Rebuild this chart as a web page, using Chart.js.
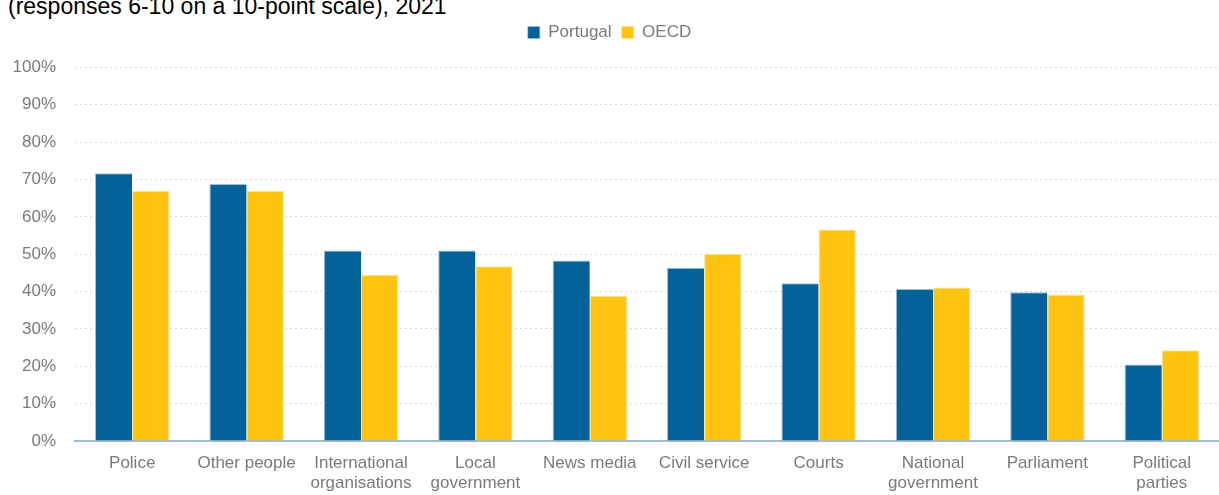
<!DOCTYPE html>
<html>
<head>
<meta charset="utf-8">
<script src="https://cdn.jsdelivr.net/npm/chart.js@4.4.0/dist/chart.umd.min.js"></script>
<style>
  html, body { margin: 0; padding: 0; background: #fff; overflow: hidden; }
  #wrap { position: relative; width: 1219px; height: 495px; }
  #title {
    position: absolute; left: 8px; top: -7px;
    font-family: "Liberation Sans Narrow", "Arial Narrow", "Liberation Sans", sans-serif;
    font-size: 23px; color: #000; white-space: nowrap;
  }
  canvas { position: absolute; left: 0; top: 0; }
</style>
</head>
<body>
<div id="wrap">
  <div id="title">(responses 6-10 on a 10-point scale), 2021</div>
  <canvas id="chart" width="1219" height="495"></canvas>
</div>
<script>
const categories = [
  "Police", "Other people", ["International", "organisations"], ["Local", "government"],
  "News media", "Civil service", "Courts", ["National", "government"], "Parliament", ["Political", "parties"]
];
const portugal = [71.7, 68.8, 51.0, 51.0, 48.3, 46.4, 42.2, 40.7, 39.8, 20.5];
const oecd = [67.0, 67.0, 44.5, 46.8, 38.8, 50.1, 56.6, 41.1, 39.2, 24.3];
const yTicks = [0, 10, 20, 30, 40, 50, 60, 70, 80, 90, 100];

const FONT = "'Liberation Sans Narrow', 'Arial Narrow', 'Liberation Sans', sans-serif";
const GREY = "#7a7a7a";

const ctx = document.getElementById("chart").getContext("2d");
new Chart(ctx, {
  type: "bar",
  data: {
    labels: categories,
    datasets: [
      {
        label: "Portugal",
        data: portugal,
        backgroundColor: "#04629a",
        borderColor: "#9dc0da",
        borderWidth: { top: 1, left: 1, right: 0, bottom: 0 },
        categoryPercentage: 0.65,
        barPercentage: 1.0,
      },
      {
        label: "OECD",
        data: oecd,
        backgroundColor: "#ffc312",
        borderColor: "#ffe28c",
        borderWidth: { top: 1, left: 1, right: 1, bottom: 0 },
        categoryPercentage: 0.65,
        barPercentage: 1.0,
      },
    ],
  },
  options: {
    responsive: false,
    animation: false,
    layout: { padding: { top: 14, right: 0, left: 0, bottom: 0 } },
    plugins: {
      legend: {
        position: "top",
        align: "center",
        weight: 3000,
        labels: {
          boxWidth: 12,
          boxHeight: 12,
          padding: 10,
          color: GREY,
          font: { family: FONT, size: 17 },
        },
      },
      // empty title used only as a spacer under the legend
      title: {
        display: true,
        text: "",
        weight: 500,
        padding: { top: 0, bottom: 2 },
      },
      tooltip: { enabled: false },
    },
    scales: {
      x: {
        grid: { display: false },
        border: { display: true, color: "#a4b9d3", width: 2 },
        ticks: {
          color: GREY,
          font: { family: FONT, size: 17 },
          maxRotation: 0,
          autoSkip: false,
          padding: 4,
        },
        afterFit: (scale) => { scale.height = 54; },
      },
      y: {
        min: 0,
        max: 100,
        afterBuildTicks: (scale) => { scale.ticks = yTicks.map((v) => ({ value: v })); },
        grid: {
          color: (c) => (c.tick && c.tick.value === 0 ? "rgba(0,0,0,0)" : "#d9d9d9"),
          drawTicks: false,
        },
        border: { display: false, dash: [2, 3] },
        ticks: {
          color: GREY,
          font: { family: FONT, size: 17 },
          padding: 19,
          callback: (v) => v + "%",
        },
        afterFit: (scale) => { scale.width = 75; },
      },
    },
  },
});
</script>
</body>
</html>
